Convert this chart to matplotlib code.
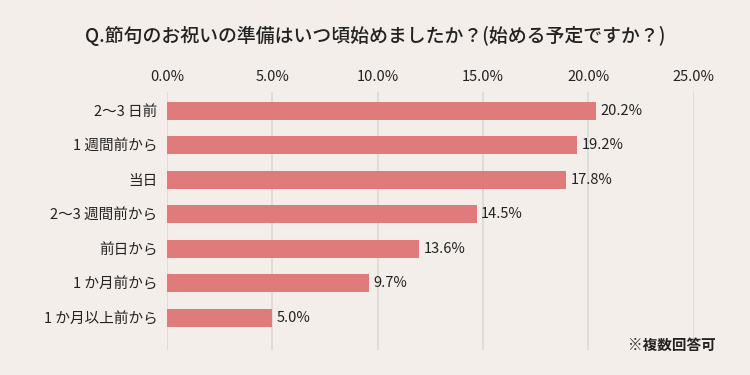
import matplotlib
matplotlib.use('Agg')
import matplotlib.pyplot as plt

plt.rcParams['font.family'] = ['Noto Sans CJK JP', 'DejaVu Sans']

categories = ['2～3 日前', '1 週間前から', '当日', '2～3 週間前から', '前日から', '1 か月前から', '1 か月以上前から']
# bar lengths as drawn in the picture, and the printed labels
bar_values = [20.35, 19.45, 18.95, 14.7, 11.95, 9.6, 5.0]
value_labels = ['20.2%', '19.2%', '17.8%', '14.5%', '13.6%', '9.7%', '5.0%']
ticks = [0, 5, 10, 15, 20, 25]

bg = '#f3eeea'
bar_color = '#e07b7b'

fig = plt.figure(figsize=(7.5, 3.75), dpi=100, facecolor=bg)
ax = fig.add_axes([0.2227, 0.067, 0.702, 0.688], facecolor=bg)

y = list(range(len(categories)))
ax.barh(y, bar_values, height=0.52, color=bar_color, zorder=3)
for yi, v, lab in zip(y, bar_values, value_labels):
    ax.text(v + 0.22, yi, lab, va='center', ha='left', fontsize=10.5, color='#222222')

ax.set_xlim(0, 25)
ax.set_ylim(6.93, -0.55)
ax.set_xticks(ticks)
ax.set_xticklabels([f'{t:.1f}%' for t in ticks], fontsize=10.5, color='#222222')
ax.xaxis.tick_top()
ax.tick_params(axis='x', length=0, pad=6)
ax.set_yticks(y)
ax.set_yticklabels(categories, fontsize=10.5, color='#222222')
ax.tick_params(axis='y', length=0, pad=7)
ax.grid(axis='x', color='#dcd8d4', linewidth=1.2, zorder=0)
for s in ax.spines.values():
    s.set_visible(False)

fig.text(0.5, 0.905, 'Q.節句のお祝いの準備はいつ頃始めましたか？(始める予定ですか？)',
         ha='center', va='center', fontsize=13.6, fontweight='medium', color='#222222')
fig.text(0.955, 0.08, '※複数回答可', ha='right', va='center', fontsize=10.5,
         fontweight='bold', color='#222222')

fig.savefig('out.png', dpi=100, facecolor=bg)
